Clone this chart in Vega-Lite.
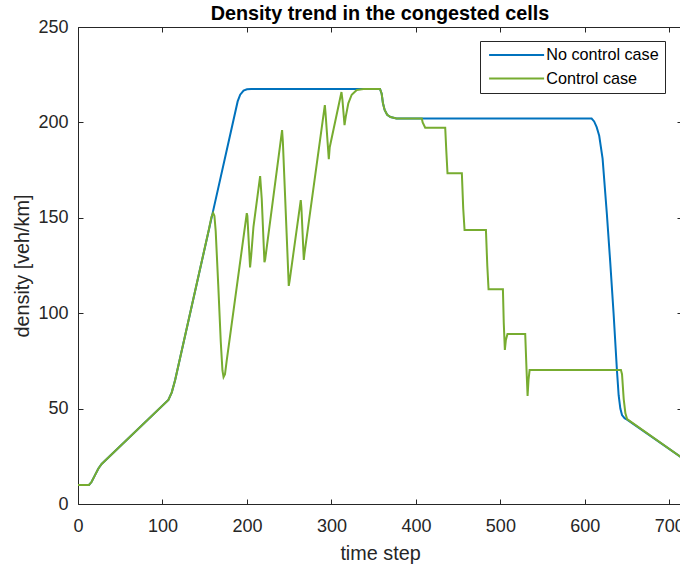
{
  "$schema": "https://vega.github.io/schema/vega-lite/v6.json",
  "autosize": "none",
  "width": 604,
  "height": 477,
  "padding": {"left": 78, "top": 27, "right": 0, "bottom": 63},
  "background": "white",
  "title": {"text": "Density trend in the congested cells", "font": "Liberation Sans", "fontSize": 19.8, "fontWeight": "bold", "color": "#000000", "offset": -6, "anchor": "middle"},
  "config": {
    "view": {"stroke": null},
    "axis": {"grid": false, "labelFont": "Liberation Sans", "titleFont": "Liberation Sans", "labelColor": "#262626", "titleColor": "#262626", "domainColor": "#262626", "tickColor": "#262626", "labelFontSize": 18, "titleFontSize": 19.8, "titleFontWeight": "normal", "tickSize": -5, "domainWidth": 1, "tickWidth": 1},
    "legend": {"labelFont": "Liberation Sans", "labelFontSize": 16.2, "labelColor": "#000000"}
  },
  "data": {"values": [
    {"t":0,"d":10,"c":"No control case"},{"t":13,"d":10,"c":"No control case"},{"t":16,"d":11.5,"c":"No control case"},{"t":20,"d":15,"c":"No control case"},{"t":24,"d":18.5,"c":"No control case"},{"t":28,"d":21,"c":"No control case"},{"t":107,"d":54.5,"c":"No control case"},{"t":111,"d":58.5,"c":"No control case"},{"t":115,"d":65,"c":"No control case"},{"t":159.5,"d":152.7,"c":"No control case"},{"t":189,"d":211,"c":"No control case"},{"t":192,"d":214.5,"c":"No control case"},{"t":196,"d":216.7,"c":"No control case"},{"t":200,"d":217.4,"c":"No control case"},{"t":205,"d":217.5,"c":"No control case"},{"t":357.5,"d":217.5,"c":"No control case"},{"t":359.5,"d":215,"c":"No control case"},{"t":361,"d":210,"c":"No control case"},{"t":363,"d":206.5,"c":"No control case"},{"t":366,"d":204,"c":"No control case"},{"t":370,"d":202.8,"c":"No control case"},{"t":377,"d":202.1,"c":"No control case"},{"t":608,"d":202,"c":"No control case"},{"t":611,"d":200.5,"c":"No control case"},{"t":614,"d":197.5,"c":"No control case"},{"t":617,"d":193,"c":"No control case"},{"t":621,"d":181,"c":"No control case"},{"t":626,"d":152.4,"c":"No control case"},{"t":630,"d":127,"c":"No control case"},{"t":634,"d":100,"c":"No control case"},{"t":638,"d":70,"c":"No control case"},{"t":640,"d":57,"c":"No control case"},{"t":642,"d":50,"c":"No control case"},{"t":644,"d":46.6,"c":"No control case"},{"t":647,"d":45,"c":"No control case"},{"t":650,"d":44.2,"c":"No control case"},{"t":713,"d":24.8,"c":"No control case"},{"t":715,"d":24.2,"c":"No control case"},
    {"t":0,"d":10,"c":"Control case"},{"t":13,"d":10,"c":"Control case"},{"t":16,"d":11.5,"c":"Control case"},{"t":20,"d":15,"c":"Control case"},{"t":24,"d":18.5,"c":"Control case"},{"t":28,"d":21,"c":"Control case"},{"t":107,"d":54.5,"c":"Control case"},{"t":111,"d":58.5,"c":"Control case"},{"t":115,"d":65,"c":"Control case"},{"t":155,"d":144,"c":"Control case"},{"t":158,"d":150.5,"c":"Control case"},{"t":160,"d":152.5,"c":"Control case"},{"t":161.5,"d":151,"c":"Control case"},{"t":163,"d":143,"c":"Control case"},{"t":166,"d":115,"c":"Control case"},{"t":169,"d":85,"c":"Control case"},{"t":171,"d":70,"c":"Control case"},{"t":172.3,"d":66.5,"c":"Control case"},{"t":174,"d":68,"c":"Control case"},{"t":176,"d":75,"c":"Control case"},{"t":199.8,"d":152.4,"c":"Control case"},{"t":200.5,"d":151,"c":"Control case"},{"t":203.7,"d":124,"c":"Control case"},{"t":205,"d":130,"c":"Control case"},{"t":207.7,"d":145.3,"c":"Control case"},{"t":215.6,"d":171.9,"c":"Control case"},{"t":217.5,"d":160,"c":"Control case"},{"t":220.7,"d":126.7,"c":"Control case"},{"t":221.5,"d":128,"c":"Control case"},{"t":241.6,"d":196,"c":"Control case"},{"t":242.5,"d":190,"c":"Control case"},{"t":249.5,"d":114.3,"c":"Control case"},{"t":250.5,"d":117,"c":"Control case"},{"t":263.7,"d":159.3,"c":"Control case"},{"t":264.5,"d":155,"c":"Control case"},{"t":267.3,"d":127.9,"c":"Control case"},{"t":268,"d":131,"c":"Control case"},{"t":292.2,"d":209.1,"c":"Control case"},{"t":293,"d":205,"c":"Control case"},{"t":296.9,"d":180.7,"c":"Control case"},{"t":298,"d":187,"c":"Control case"},{"t":311.9,"d":215.9,"c":"Control case"},{"t":313,"d":212,"c":"Control case"},{"t":315.5,"d":198.6,"c":"Control case"},{"t":317,"d":203,"c":"Control case"},{"t":320,"d":210,"c":"Control case"},{"t":324,"d":214.5,"c":"Control case"},{"t":330,"d":217,"c":"Control case"},{"t":338,"d":217.5,"c":"Control case"},{"t":357.5,"d":217.5,"c":"Control case"},{"t":359.5,"d":215,"c":"Control case"},{"t":361,"d":210,"c":"Control case"},{"t":363,"d":206.5,"c":"Control case"},{"t":366,"d":204,"c":"Control case"},{"t":370,"d":202.8,"c":"Control case"},{"t":377,"d":202.1,"c":"Control case"},{"t":407,"d":202,"c":"Control case"},{"t":408,"d":200,"c":"Control case"},{"t":411,"d":197.2,"c":"Control case"},{"t":434.7,"d":197.2,"c":"Control case"},{"t":436,"d":185,"c":"Control case"},{"t":437.4,"d":173.3,"c":"Control case"},{"t":454.4,"d":173.3,"c":"Control case"},{"t":456,"d":155,"c":"Control case"},{"t":457.6,"d":143.6,"c":"Control case"},{"t":482.9,"d":143.6,"c":"Control case"},{"t":484.5,"d":125,"c":"Control case"},{"t":486,"d":112.5,"c":"Control case"},{"t":503,"d":112.5,"c":"Control case"},{"t":504,"d":95,"c":"Control case"},{"t":505.3,"d":80.7,"c":"Control case"},{"t":506.5,"d":86,"c":"Control case"},{"t":508.4,"d":89.1,"c":"Control case"},{"t":529.4,"d":89.1,"c":"Control case"},{"t":531,"d":70,"c":"Control case"},{"t":532.2,"d":56.6,"c":"Control case"},{"t":533.3,"d":65,"c":"Control case"},{"t":534.6,"d":70.2,"c":"Control case"},{"t":642.7,"d":70.2,"c":"Control case"},{"t":644,"d":68,"c":"Control case"},{"t":646,"d":55,"c":"Control case"},{"t":648,"d":47.5,"c":"Control case"},{"t":650,"d":44.5,"c":"Control case"},{"t":713,"d":24.8,"c":"Control case"},{"t":715,"d":24.2,"c":"Control case"}
  ]},
  "layer": [
    {
      "mark": {"type": "line", "strokeWidth": 2, "clip": true},
      "encoding": {
        "x": {"field": "t", "type": "quantitative", "scale": {"domain": [0, 715], "nice": false, "zero": false}, "axis": {"orient": "bottom", "title": "time step", "values": [0,100,200,300,400,500,600,700], "labelPadding": 18, "titlePadding": 8, "labelFlush": false}},
        "y": {"field": "d", "type": "quantitative", "scale": {"domain": [0, 250], "nice": false}, "axis": {"orient": "left", "title": "density [veh/km]", "values": [0,50,100,150,200,250], "labelPadding": 15, "titlePadding": 5}},
        "color": {"field": "c", "type": "nominal", "sort": ["No control case", "Control case"], "scale": {"domain": ["No control case", "Control case"], "range": ["#0072BD", "#77AC30"]}, "legend": {"title": null, "orient": "none", "legendX": 402, "legendY": 14, "symbolType": "M-1,0H10", "symbolSize": 100, "symbolStrokeWidth": 2, "fillColor": "white", "strokeColor": "#262626", "padding": 6, "rowPadding": 6.5, "labelOffset": 44}}
      }
    },
    {
      "mark": {"type": "line", "opacity": 0},
      "encoding": {
        "x": {"field": "t", "type": "quantitative", "axis": {"orient": "top", "title": null, "labels": false, "values": [0,100,200,300,400,500,600,700]}},
        "y": {"field": "d", "type": "quantitative", "axis": {"orient": "right", "title": null, "labels": false, "values": [0,50,100,150,200,250]}}
      }
    }
  ],
  "resolve": {"axis": {"x": "independent", "y": "independent"}}
}
